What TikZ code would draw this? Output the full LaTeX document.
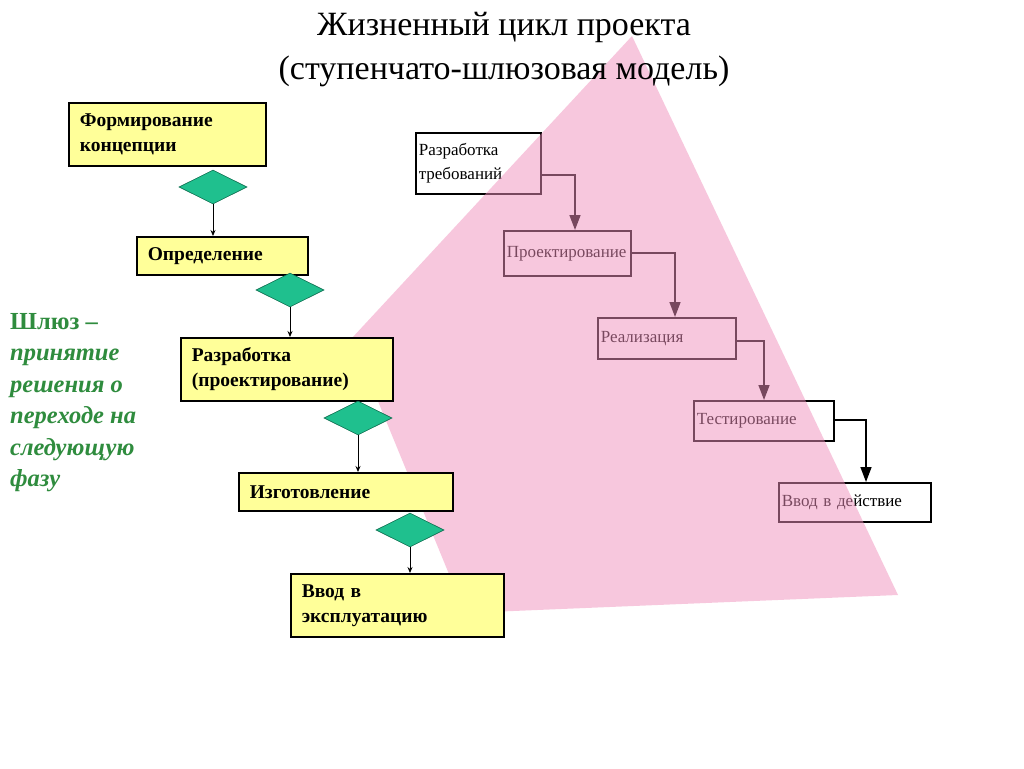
\documentclass[tikz,border=0pt]{standalone}
\usepackage{fontspec}
\setmainfont{Liberation Serif}
\usetikzlibrary{shapes.geometric,arrows.meta}
\definecolor{boxyellow}{HTML}{FFFF99}
\definecolor{gatefill}{HTML}{1FC08E}
\definecolor{gateline}{HTML}{0E6E50}
\definecolor{pinksrc}{HTML}{F191BD}
\definecolor{gategreen}{HTML}{2F8C3E}
\tikzset{
  phasebox/.style={draw=black, line width=1.6pt, fill=boxyellow, anchor=north west,
    align=left, inner xsep=11pt, inner ysep=0pt,
    font=\fontsize{19.5}{25}\selectfont\bfseries},
  gate/.style={diamond, draw=gateline, line width=0.6pt, fill=gatefill, aspect=2,
    inner sep=0pt, minimum width=68pt, minimum height=34pt},
  gatearrow/.style={draw=black, line width=0.8pt, -{Stealth[length=6pt,width=5pt]}},
  wbox/.style={draw=black, line width=1.6pt, anchor=north west, align=left,
    inner xsep=3pt, inner ysep=0pt, font=\fontsize{17}{24}\selectfont},
  warrow/.style={draw=black, line width=1.5pt, -{Triangle[length=15pt,width=11pt]}}
}
\begin{document}
\begin{tikzpicture}[x=1pt,y=-1pt]
\useasboundingbox (0,0) rectangle (1024,768);
\fill[white] (0,0) rectangle (1024,768);

% waterfall (under the pink overlay)
\node[wbox, text width=119pt, minimum width=125pt, minimum height=61pt] (A) at (415,132) {Разработка\\требований};
\node[wbox, text width=121pt, minimum width=127pt, minimum height=45pt] (B) at (503,230) {Проектирование};
\node[wbox, text width=132pt, minimum width=138pt, minimum height=41pt] (C) at (597,317) {Реализация};
\node[wbox, text width=134pt, minimum width=140pt, minimum height=40pt] (D) at (693,400) {Тестирование};
\node[wbox, text width=146pt, minimum width=152pt, minimum height=39pt] (E) at (778,482) {Ввод в действие};
\draw[warrow] (A.east |- 0,175) -| (B.north -| 575,0);
\draw[warrow] (B.east |- 0,253) -| (C.north -| 675,0);
\draw[warrow] (C.east |- 0,341) -| (D.north -| 764,0);
\draw[warrow] (D.east |- 0,420) -| (E.north -| 866,0);

% pink overlay
\fill[pinksrc, fill opacity=0.5] (632,36) -- (352,338) -- (465,613) -- (898,595) -- cycle;

% title
\node[font=\fontsize{34}{44}\selectfont, align=center] (title) at (504,50) {Жизненный цикл проекта\\(ступенчато-шлюзовая модель)};

% stage-gate column
\node[phasebox, text width=175pt, minimum width=197pt, minimum height=63pt] (p1) at (68,102) {Формирование\\концепции};
\node[gate] (g1) at (213,187) {};
\node[phasebox, text width=149pt, minimum width=171pt, minimum height=38pt] (p2) at (136,236) {Определение};
\node[gate] (g2) at (290,290) {};
\node[phasebox, text width=190pt, minimum width=212pt, minimum height=63pt] (p3) at (180,337) {Разработка\\(проектирование)};
\node[gate] (g3) at (358,418) {};
\node[phasebox, text width=192pt, minimum width=214pt, minimum height=38pt] (p4) at (238,472) {Изготовление};
\node[gate] (g4) at (410,530) {};
\node[phasebox, text width=191pt, minimum width=213pt, minimum height=63pt] (p5) at (290,573) {Ввод в\\эксплуатацию};
\draw[gatearrow] (g1.south) -- (g1.south |- p2.north);
\draw[gatearrow] (g2.south) -- (g2.south |- p3.north);
\draw[gatearrow] (g3.south) -- (g3.south |- p4.north);
\draw[gatearrow] (g4.south) -- (g4.south |- p5.north);

% gate note
\node[anchor=north west, align=left, text=gategreen, inner sep=0pt,
  font=\fontsize{24.5}{31.5}\selectfont\bfseries] (note) at (10,313)
  {Шлюз –\\\itshape принятие\\\itshape решения о\\\itshape переходе на\\\itshape следующую\\\itshape фазу};
\end{tikzpicture}
\end{document}
